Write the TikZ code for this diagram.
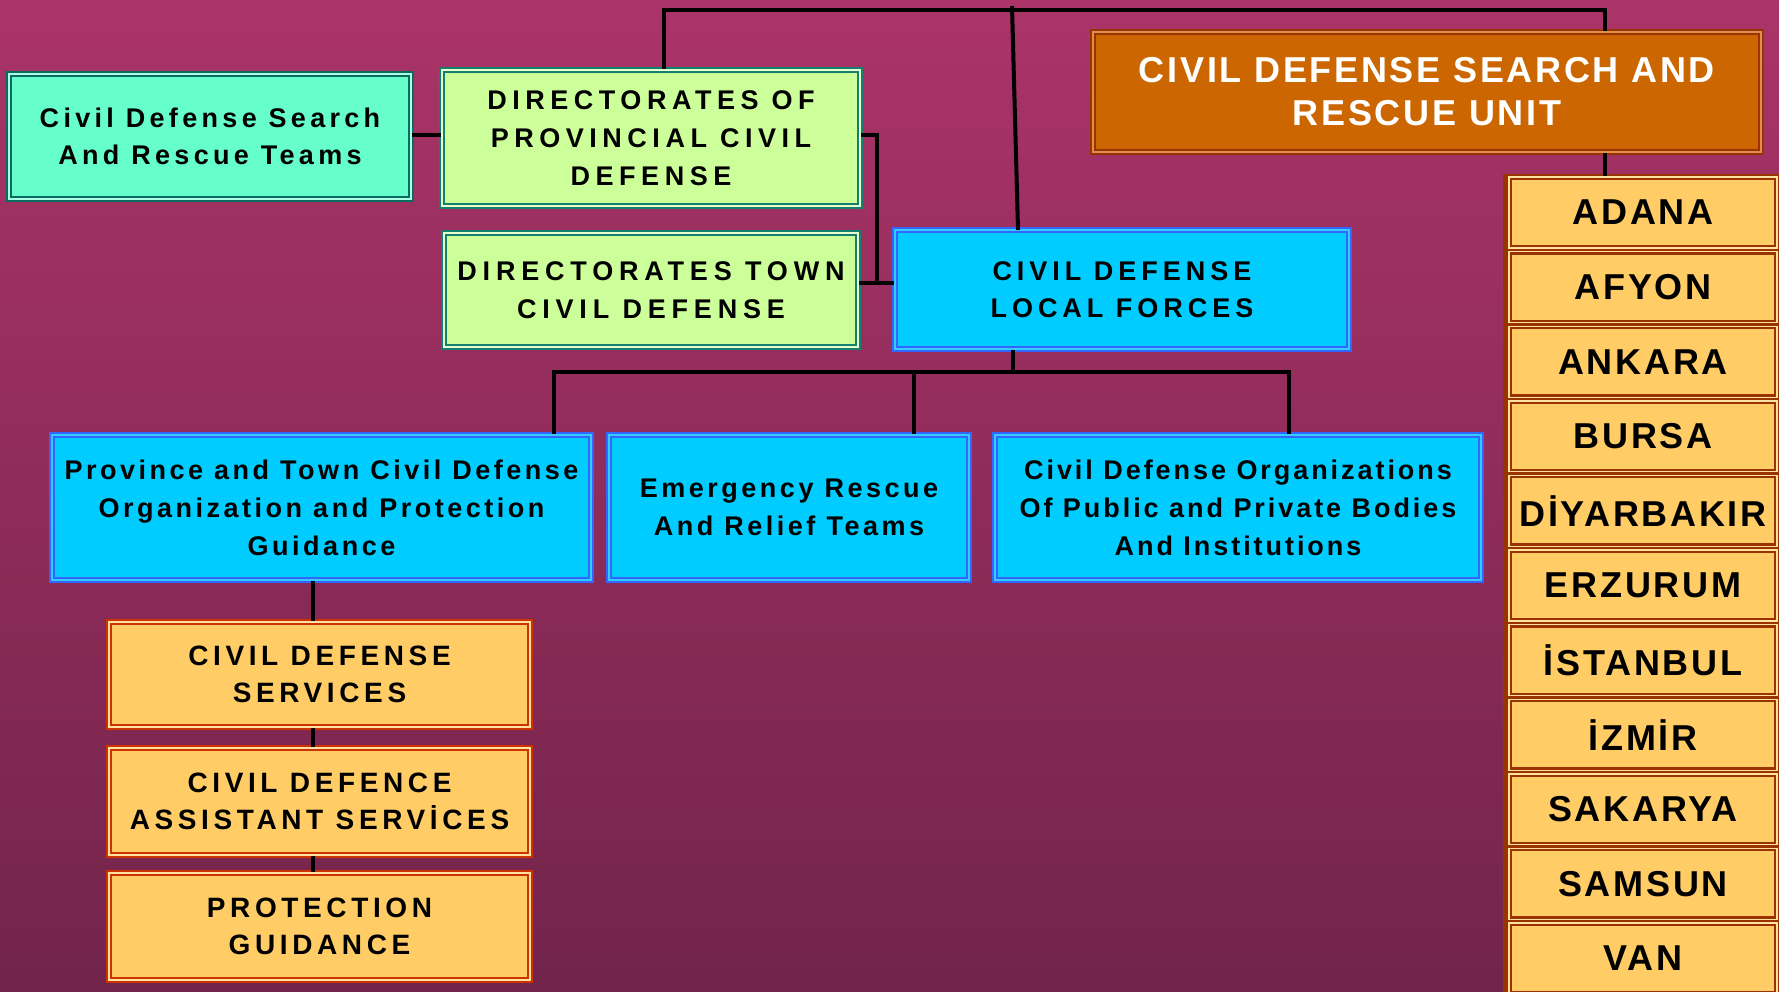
\documentclass[tikz,border=0pt]{standalone}
\usepackage{fontspec}
\setmainfont{Liberation Sans}
\definecolor{bgtop}{HTML}{AB3468}
\definecolor{bgbot}{HTML}{72244A}
\definecolor{tealdark}{HTML}{0C6B60}
\definecolor{teallight}{HTML}{A8FFE4}
\definecolor{tealfill}{HTML}{66FFCC}
\definecolor{grndark}{HTML}{138070}
\definecolor{grnlight}{HTML}{E8FFCC}
\definecolor{grnfill}{HTML}{CCFF99}
\definecolor{bludark}{HTML}{3366FF}
\definecolor{blulight}{HTML}{33CCFF}
\definecolor{blufill}{HTML}{00CCFF}
\definecolor{brndark}{HTML}{993300}
\definecolor{brnlight}{HTML}{E0904A}
\definecolor{brnfill}{HTML}{CC6600}
\definecolor{reddark}{HTML}{CC3300}
\definecolor{yellight}{HTML}{FFE2A0}
\definecolor{yelfill}{HTML}{FFCC66}
\tikzset{
  txt/.style n args={3}{font=\bfseries\fontsize{#1}{#2}\selectfont\addfontfeature{LetterSpace=#3}},
  bxbase/.style={line width=2.3pt, double distance=1.4pt, inner sep=0pt, align=center, text=black},
  tealbox/.style={bxbase, draw=tealdark, double=teallight, fill=tealfill},
  grnbox/.style={bxbase, draw=grndark, double=grnlight, fill=grnfill},
  blubox/.style={bxbase, draw=bludark, double=blulight, fill=blufill},
  unitbox/.style={bxbase, draw=brndark, double=brnlight, fill=brnfill, text=white, txt={36}{43}{7.5}},
  yelbox/.style={bxbase, draw=reddark, double=yellight, fill=yelfill, txt={28}{37.5}{16.5}},
  citybox/.style={bxbase, draw=brndark, double=yellight, fill=yelfill,
    minimum width=268pt, minimum height=71pt, txt={36}{40}{7.5}},
  conn/.style={line width=4pt, black}
}
\begin{document}
\begin{tikzpicture}[x=1pt, y=-1pt]
\useasboundingbox (0,0) rectangle (1779,992);
\shade[top color=bgtop, bottom color=bgbot] (0,0) rectangle (1779,992);

% coordinates for connector routing
\coordinate (topL) at (664,10);
\coordinate (topM) at (1012,6);
\coordinate (midB) at (1018,230);
\coordinate (topR) at (1605,10);
\coordinate (brk) at (877,135);
\coordinate (bus) at (1013,372);

% top row
\node[tealbox, txt={27}{37.5}{16}, minimum width=402pt, minimum height=125pt] (TEAL) at (210,136.5)
  {Civil Defense Search\\And Rescue Teams};
\node[grnbox, txt={27}{38}{20.5}, minimum width=418pt, minimum height=136pt] (DPC) at (651,138)
  {DIRECTORATES OF\\PROVINCIAL CIVIL\\DEFENSE};
\node[grnbox, txt={27}{38}{21.5}, minimum width=414pt, minimum height=114pt] (DTC) at (651,290)
  {DIRECTORATES TOWN\\CIVIL DEFENSE};
\node[blubox, txt={27}{37.5}{18.5}, minimum width=454pt, minimum height=119pt] (CDLF) at (1122,289.5)
  {CIVIL DEFENSE\\LOCAL FORCES};
\node[unitbox, minimum width=668pt, minimum height=120pt] (UNIT) at (1427,92)
  {CIVIL DEFENSE SEARCH AND\\RESCUE UNIT};

% second row
\node[blubox, txt={27}{38}{13}, minimum width=539pt, minimum height=145pt] (PTCD) at (321.5,507.5)
  {Province and Town Civil Defense\\Organization and Protection\\Guidance};
\node[blubox, txt={27}{37.5}{13}, minimum width=360pt, minimum height=145pt] (ERR) at (789,507.5)
  {Emergency Rescue\\And Relief Teams};
\node[blubox, txt={27}{38}{10.9}, minimum width=486pt, minimum height=145pt] (CDO) at (1238,507.5)
  {Civil Defense Organizations\\Of Public and Private Bodies\\And Institutions};

% left column
\node[yelbox, minimum width=421pt, minimum height=105pt] (CDS) at (319.5,674.5)
  {CIVIL DEFENSE\\SERVICES};
\node[yelbox, minimum width=421pt, minimum height=107pt] (CDAS) at (319.5,801.5)
  {CIVIL DEFENCE\\ASSISTANT SERVİCES};
\node[yelbox, minimum width=421pt, minimum height=107pt] (PG) at (319.5,926.5)
  {PROTECTION\\GUIDANCE};

% city column
\fill[brndark] (1503,174) rectangle (1779,992);
\foreach \n [count=\i from 0] in {ADANA,AFYON,ANKARA,BURSA,DİYARBAKIR,ERZURUM,İSTANBUL,İZMİR,SAKARYA,SAMSUN,VAN}
  \node[citybox] (city\i) at (1643,{212.5+74.6*\i}) {\n};

% connectors
\draw[conn] (DPC.north -| topL) -- (topL) -- (topR) -- (UNIT.north -| topR);
\draw[conn] (topM) -- (midB);
\draw[conn] (TEAL.east |- brk) -- (DPC.west |- brk);
\draw[conn] (DPC.east |- brk) -- (brk) |- (CDLF.west |- 0,283);
\draw[conn] (DTC.east |- 0,283) -- (CDLF.west |- 0,283);
\draw[conn] (CDLF.south -| bus) -- (bus);
\draw[conn] (PTCD.north -| 554,0) |- (bus) -| (CDO.north -| 1289,0);
\draw[conn] (ERR.north -| 914,0) -- (bus -| 914,0);
\draw[conn] (PTCD.south -| 313,0) -- (CDS.north -| 313,0);
\draw[conn] (CDS.south -| 313,0) -- (CDAS.north -| 313,0);
\draw[conn] (CDAS.south -| 313,0) -- (PG.north -| 313,0);
\draw[conn] (UNIT.south -| topR) -- (city0.north -| topR);
\end{tikzpicture}
\end{document}
